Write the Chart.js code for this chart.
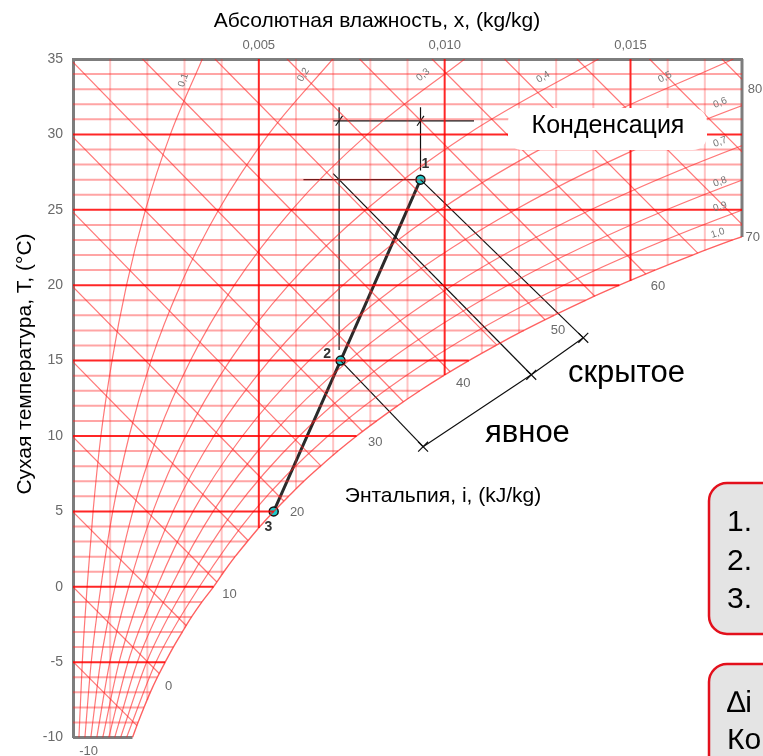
<!DOCTYPE html>
<html>
<head>
<meta charset="utf-8">
<script src="https://cdn.jsdelivr.net/npm/chart.js@4"></script>
<style>
body{margin:0;background:#fff;}
</style>
</head>
<body>
<canvas id="psy" width="763" height="756"></canvas>
<script>
// axes
const humMin = 0, humMax = 0.018;
const tempMin = -10, tempMax = 35;
const humTicks = [0.005, 0.010, 0.015];
const tempTicks = [-10, -5, 0, 5, 10, 15, 20, 25, 30, 35];

// saturation line (rh 1,0), x for every degree
const satT = [-10, -9, -8, -7, -6, -5, -4, -3, -2, -1, 0, 1, 2, 3, 4, 5, 6, 7, 8, 9, 10, 11, 12, 13, 14, 15, 16, 17, 18, 19, 20, 21, 22, 23, 24];
const satX = [0.00160, 0.00175, 0.00191, 0.00208, 0.00227, 0.00248, 0.00270, 0.00294, 0.00319, 0.00347, 0.00378, 0.00406, 0.00436, 0.00469, 0.00503, 0.00540, 0.00580, 0.00621, 0.00666, 0.00713, 0.00763, 0.00817, 0.00873, 0.00933, 0.00997, 0.01065, 0.01137, 0.01213, 0.01294, 0.01379, 0.01470, 0.01566, 0.01667, 0.01775, 0.01889];
const satEdgeT = 23.2;

// grid lines: temperature every degree, humidity every 0,001 (down to dew point)
const tempGrid = [-9, -8, -7, -6, -5, -4, -3, -2, -1, 0, 1, 2, 3, 4, 5, 6, 7, 8, 9, 10, 11, 12, 13, 14, 15, 16, 17, 18, 19, 20, 21, 22, 23, 24, 25, 26, 27, 28, 29, 30, 31, 32, 33, 34];
const humGrid = [0.001, 0.002, 0.003, 0.004, 0.005, 0.006, 0.007, 0.008, 0.009, 0.010, 0.011, 0.012, 0.013, 0.014, 0.015, 0.016, 0.017];
const humGridDew = [-10, -7.5, -2.75, 0.8, 3.9, 6.5, 8.7, 10.7, 12.45, 14.05, 15.5, 16.85, 18.05, 19.25, 20.3, 21.35, 22.3];

// relative humidity curves 0,1 ... 0,9
const rhT = [-10, -5, 0, 5, 10, 15, 20, 25, 30, 35];
const rh10 = [0.00016, 0.00025, 0.00038, 0.00054, 0.00075, 0.00105, 0.00144, 0.00195, 0.00262, 0.00348];
const rh20 = [0.00032, 0.00049, 0.00075, 0.00107, 0.00151, 0.00210, 0.00289, 0.00392, 0.00526, 0.00699];
const rh30 = [0.00048, 0.00074, 0.00113, 0.00161, 0.00227, 0.00316, 0.00434, 0.00589, 0.00792, 0.01054];
const rh40 = [0.00064, 0.00099, 0.00150, 0.00215, 0.00303, 0.00422, 0.00580, 0.00788, 0.01061, 0.01414];
const rh50 = [0.00080, 0.00124, 0.00188, 0.00269, 0.00379, 0.00528, 0.00726, 0.00988, 0.01332, 0.01777];
const rh60 = [0.00096, 0.00148, 0.00226, 0.00323, 0.00456, 0.00635, 0.00874, 0.01190, 0.01605, 0.02145];
const rh70 = [0.00112, 0.00173, 0.00264, 0.00377, 0.00532, 0.00742, 0.01022, 0.01393, 0.01880, 0.02517];
const rh80 = [0.00128, 0.00198, 0.00302, 0.00432, 0.00609, 0.00849, 0.01170, 0.01597, 0.02158, 0.02893];
const rh90 = [0.00144, 0.00223, 0.00340, 0.00486, 0.00686, 0.00957, 0.01320, 0.01802, 0.02438, 0.03274];

// enthalpy lines i = -5 ... 80 kJ/kg, start and end
const enthI = [-5, 0, 5, 10, 15, 20, 25, 30, 35, 40, 45, 50, 55, 60, 65, 70, 75, 80];
const enthStartX = [0, 0, 0, 0, 0, 0, 0, 0, 0, 0.00187, 0.00382, 0.00576, 0.00771, 0.00966, 0.01161, 0.01356, 0.01551, 0.01746];
const enthStartT = [-4.97, 0, 4.97, 9.94, 14.91, 19.88, 24.85, 29.82, 34.79, 35, 35, 35, 35, 35, 35, 35, 35, 35];
const enthEndX = [0.00172, 0.00232, 0.00305, 0.00387, 0.00471, 0.00567, 0.00667, 0.00779, 0.00889, 0.01015, 0.01140, 0.01270, 0.01404, 0.01541, 0.01681, 0.018, 0.018, 0.018];
const enthEndT = [-9.21, -5.75, -2.58, 0.32, 3.07, 5.69, 8.02, 10.30, 12.27, 14.26, 16.04, 17.71, 19.27, 20.74, 22.13, 24.03, 28.84, 33.65];

// process 3 -> 2 -> 1
const procNames = ['3', '2', '1'];
const procX = [0.0054, 0.0072, 0.00935];
const procT = [5, 15, 27];

// construction lines
const guideTopT = 30.9, guideTopX = [0.0070, 0.01079];
const guideVertTopT = 31.8;
const guideLeftX = 0.00716, guideLeftEndT = 15.7;
const guideRightEndT = 27.6;
const guideDewX = [0.0062, 0.00926];
const sensibleEnd = [0.00942, 9.29];
const latentEnd = [0.01233, 14.06];
const totalEnd = [0.01373, 16.51];

const thinRedH = 'rgba(255,40,40,0.42)';
const thinRedV = 'rgba(255,40,40,0.28)';
const thickRed = 'rgba(255,0,0,0.85)';
const curveRed = 'rgba(255,30,30,0.6)';
const frameGray = '#7d7d7d';

Chart.defaults.font.family = 'Liberation Sans, Arial, sans-serif';

const P = (x, y) => ({x: x, y: y});
const datasets = [];
function addLine(points, color, width, extra) {
  datasets.push(Object.assign({
    data: points, showLine: true, borderColor: color, borderWidth: width,
    pointRadius: 0, fill: false
  }, extra || {}));
}

tempGrid.forEach(t => {
  const k = satT.indexOf(t);
  const end = k >= 0 ? Math.min(satX[k], humMax) : humMax;
  addLine([P(humMin, t), P(end, t)], t % 5 === 0 ? thickRed : thinRedH, 2);
});
humGrid.forEach((h, k) => {
  const thick = Math.round(h * 1000) % 5 === 0;
  addLine([P(h, humGridDew[k]), P(h, tempMax)], thick ? thickRed : thinRedV, 2);
});
enthI.forEach((v, k) => {
  addLine([P(enthStartX[k], enthStartT[k]), P(enthEndX[k], enthEndT[k])], curveRed, 1.2);
});
[rh10, rh20, rh30, rh40, rh50, rh60, rh70, rh80, rh90].forEach(arr => {
  addLine(arr.map((x, k) => P(x, rhT[k])), curveRed, 1.2, {cubicInterpolationMode: 'monotone', capBezierPoints: false});
});
addLine(satX.map((x, k) => P(x, satT[k])), 'rgba(255,30,30,0.7)', 1.4, {cubicInterpolationMode: 'monotone', capBezierPoints: false});

// partial frame along right and bottom edge
addLine([P(humMax, tempMax), P(humMax, satEdgeT)], frameGray, 3, {clip: 4});
addLine([P(humMin, tempMin), P(satX[0], tempMin)], frameGray, 3, {clip: 4});

// construction lines
const guide = '#111';
addLine([P(guideTopX[0], guideTopT), P(guideTopX[1], guideTopT)], guide, 1.2);
addLine([P(guideLeftX, guideVertTopT), P(guideLeftX, guideLeftEndT)], guide, 1.2);
addLine([P(procX[2], guideVertTopT), P(procX[2], guideRightEndT)], guide, 1.2);
addLine([P(guideDewX[0], procT[2]), P(guideDewX[1], procT[2])], guide, 1.2);
addLine([P(0.0070, 27.4), P(latentEnd[0], latentEnd[1])], guide, 1.2);
addLine([P(procX[2], procT[2]), P(totalEnd[0], totalEnd[1])], guide, 1.2);
addLine([P(procX[1], procT[1]), P(sensibleEnd[0], sensibleEnd[1])], guide, 1.2);
addLine([sensibleEnd, latentEnd, totalEnd].map(p => P(p[0], p[1])), guide, 1.2);
datasets.push({
  data: [sensibleEnd, latentEnd, totalEnd].map(p => P(p[0], p[1])), showLine: false,
  pointStyle: 'crossRot', pointRadius: 7, pointBorderColor: guide, pointBorderWidth: 1.2
});
datasets.push({
  data: [P(guideLeftX, guideTopT), P(procX[2], guideTopT)], showLine: false,
  pointStyle: 'line', pointRotation: -55, pointRadius: 6, pointBorderColor: guide, pointBorderWidth: 1.2
});

// process line with its points
datasets.push({
  data: procX.map((x, k) => P(x, procT[k])), showLine: true,
  borderColor: '#2b2b2b', borderWidth: 3,
  pointRadius: 4.5, pointBackgroundColor: '#1ccaca', pointBorderColor: '#111', pointBorderWidth: 1.5
});

// label anchors (data units)
const enthLabelText = ['-10', '0', '10', '20', '30', '40', '50', '60', '70', '80'];
const enthLabelX = [0.00042, 0.00257, 0.00421, 0.00603, 0.00813, 0.01050, 0.01305, 0.01574, 0.01829, 0.01835];
const enthLabelT = [-10.93, -6.62, -0.52, 4.91, 9.55, 13.46, 16.97, 19.89, 23.2, 32.95];
const rhLabelText = ['0,1', '0,2', '0,3', '0,4', '0,5', '0,6', '0,7', '0,8', '0,9', '1,0'];
const rhLabelX = [0.00297, 0.0062, 0.00942, 0.01265, 0.01593, 0.01741, 0.01741, 0.01741, 0.01741, 0.01735];
const rhLabelT = [33.6, 33.95, 33.95, 33.8, 33.8, 32.1, 29.5, 26.85, 25.2, 23.45];
const rhLabelAngle = [-72, -58, -40, -32, -27, -22, -20, -20, -18, -18];
const procLabelX = [0.00526, 0.00684, 0.00948];
const procLabelT = [3.95, 15.45, 28.0];

function put(ctx, s, x, y, font, color, align, base, angle) {
  ctx.save();
  ctx.translate(x, y);
  if (angle) ctx.rotate(angle * Math.PI / 180);
  ctx.font = font;
  ctx.fillStyle = color;
  ctx.textAlign = align || 'center';
  ctx.textBaseline = base || 'middle';
  ctx.fillText(s, 0, 0);
  ctx.restore();
}
function roundBox(ctx, x, y, w, h, r) {
  ctx.beginPath();
  ctx.moveTo(x + r, y);
  ctx.lineTo(x + w - r, y);
  ctx.arcTo(x + w, y, x + w, y + r, r);
  ctx.lineTo(x + w, y + h - r);
  ctx.arcTo(x + w, y + h, x + w - r, y + h, r);
  ctx.lineTo(x + r, y + h);
  ctx.arcTo(x, y + h, x, y + h - r, r);
  ctx.lineTo(x, y + r);
  ctx.arcTo(x, y, x + r, y, r);
  ctx.closePath();
}

const FONT = 'Liberation Sans, Arial, sans-serif';
const labelsPlugin = {
  id: 'psyLabels',
  afterDatasetsDraw(chart) {
    const ctx = chart.ctx;
    ctx.save();
    roundBox(ctx, 508, 108, 199, 42, 14);
    ctx.fillStyle = '#fff';
    ctx.fill();
    ctx.restore();
    put(ctx, 'Конденсация', 608, 133, '25px ' + FONT, '#000', 'center', 'alphabetic');
  },
  afterDraw(chart) {
    const ctx = chart.ctx;
    const xs = chart.scales.x, ys = chart.scales.y;
    enthLabelText.forEach((s, k) => {
      put(ctx, s, xs.getPixelForValue(enthLabelX[k]), ys.getPixelForValue(enthLabelT[k]), '13px ' + FONT, '#6a6a6a');
    });
    rhLabelText.forEach((s, k) => {
      put(ctx, s, xs.getPixelForValue(rhLabelX[k]), ys.getPixelForValue(rhLabelT[k]), '10px ' + FONT, '#777', 'center', 'middle', rhLabelAngle[k]);
    });
    procNames.forEach((s, k) => {
      put(ctx, s, xs.getPixelForValue(procLabelX[k]), ys.getPixelForValue(procLabelT[k]), 'bold 14px ' + FONT, '#333');
    });

    put(ctx, 'Абсолютная влажность, x, (kg/kg)', 377, 27, '21px ' + FONT, '#000', 'center', 'alphabetic');
    put(ctx, 'Сухая температура, T, (°C)', 31, 364, '21px ' + FONT, '#000', 'center', 'alphabetic', -90);
    put(ctx, 'Энтальпия, i, (kJ/kg)', 443, 502, '21px ' + FONT, '#000', 'center', 'alphabetic');
    put(ctx, 'скрытое', 568, 382, '31px ' + FONT, '#000', 'left', 'alphabetic');
    put(ctx, 'явное', 485, 442, '31px ' + FONT, '#000', 'left', 'alphabetic');

    // note boxes at the right edge
    ctx.save();
    ctx.fillStyle = '#e4e4e4';
    ctx.strokeStyle = '#e3101c';
    ctx.lineWidth = 2.5;
    roundBox(ctx, 709, 483, 140, 151, 18);
    ctx.fill(); ctx.stroke();
    roundBox(ctx, 709, 664, 140, 150, 18);
    ctx.fill(); ctx.stroke();
    ctx.restore();
    put(ctx, '1.', 727, 531, '30px ' + FONT, '#000', 'left', 'alphabetic');
    put(ctx, '2.', 727, 570, '30px ' + FONT, '#000', 'left', 'alphabetic');
    put(ctx, '3.', 727, 608, '30px ' + FONT, '#000', 'left', 'alphabetic');
    put(ctx, '∆i', 727, 712, '30px ' + FONT, '#000', 'left', 'alphabetic');
    put(ctx, 'Ко', 727, 749, '30px ' + FONT, '#000', 'left', 'alphabetic');
  }
};

new Chart(document.getElementById('psy').getContext('2d'), {
  type: 'scatter',
  data: {datasets: datasets},
  options: {
    responsive: false,
    animation: false,
    devicePixelRatio: 1,
    layout: {padding: {left: 0, top: 0, right: 21, bottom: 18}},
    plugins: {legend: {display: false}, tooltip: {enabled: false}},
    scales: {
      x: {
        type: 'linear', position: 'top', min: humMin, max: humMax,
        afterBuildTicks: s => { s.ticks = humTicks.map(v => ({value: v})); },
        afterFit: s => { s.height = 59; },
        grid: {color: 'rgba(0,0,0,0)', drawTicks: false},
        border: {color: frameGray, width: 3},
        ticks: {padding: 6, color: '#6a6a6a', font: {size: 13}, maxRotation: 0, autoSkip: false,
          callback: v => v.toFixed(3).replace('.', ',')}
      },
      y: {
        type: 'linear', min: tempMin, max: tempMax,
        afterBuildTicks: s => { s.ticks = tempTicks.map(v => ({value: v})); },
        afterFit: s => { s.width = 73; },
        grid: {color: 'rgba(0,0,0,0)', drawTicks: false},
        border: {color: frameGray, width: 3},
        ticks: {padding: 10, color: '#6a6a6a', font: {size: 14}, autoSkip: false}
      }
    }
  },
  plugins: [labelsPlugin]
});
</script>
</body>
</html>
